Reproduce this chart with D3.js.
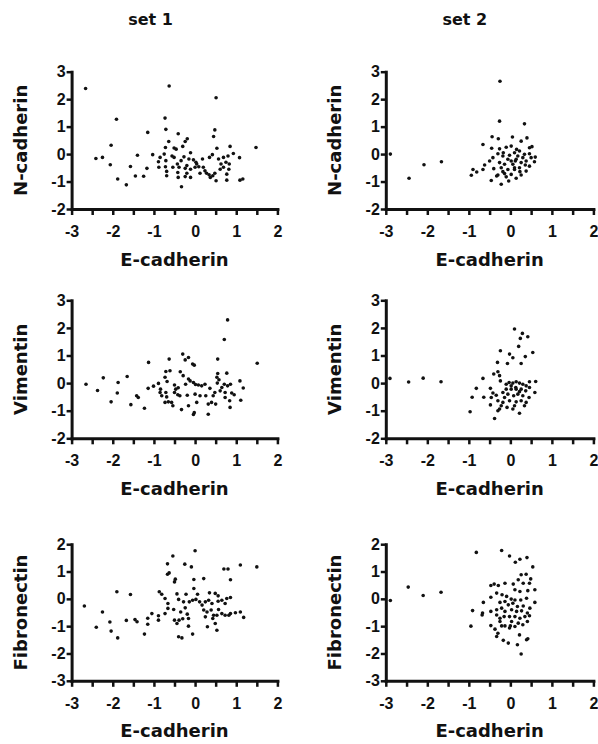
<!DOCTYPE html>
<html>
<head>
<meta charset="utf-8">
<script src="https://cdn.jsdelivr.net/npm/d3@7"></script>
<style>
  html, body { margin: 0; padding: 0; background: #fff; }
  svg { display: block; }
</style>
</head>
<body>
<svg id="chart" width="598" height="744"></svg>
<script>
// ---- data ------------------------------------------------------------
const setNames = ["set 1", "set 2"];
const markerNames = ["N-cadherin", "Vimentin", "Fibronectin"];
const xTitle = "E-cadherin";
const xDomain = [-3, 2];
const xTickValues = [-3, -2.5, -2, -1.5, -1, -0.5, 0, 0.5, 1, 1.5, 2];
const yDomains = [[-2, 3], [-2, 3], [-3, 2]];
const yTickValues = [[-2, -1, 0, 1, 2, 3], [-2, -1, 0, 1, 2, 3], [-3, -2, -1, 0, 1, 2]];

// [E-cadherin, marker] pairs
const set1NCad = [[-2.66,2.39],[-0.63,2.48],[0.51,2.05],[-1.91,1.27],[-0.73,1.31],[-0.71,0.90],[0.48,0.88],[-1.15,0.79],[0.45,0.64],[-0.41,0.74],[-2.04,0.32],[1.48,0.24],[-0.19,0.56],[-0.24,0.46],[-0.64,0.46],[-0.72,0.24],[-0.51,0.22],[-0.30,0.28],[-0.46,0.18],[0.85,0.28],[0.53,0.21],[-2.41,-0.16],[-2.25,-0.12],[-2.06,-0.39],[-1.40,-0.04],[-1.03,-0.02],[-0.75,0.00],[-0.85,-0.12],[-0.56,-0.07],[-0.51,-0.12],[-0.11,0.05],[-0.27,-0.10],[-0.34,-0.24],[-0.15,-0.18],[-0.04,-0.21],[0.02,-0.30],[0.18,-0.18],[0.35,-0.12],[0.42,-0.02],[0.57,-0.18],[0.69,-0.12],[0.80,-0.07],[0.93,0.02],[1.08,-0.13],[0.75,-0.30],[0.63,-0.36],[0.83,-0.36],[-0.89,-0.28],[-0.88,-0.48],[-0.72,-0.46],[-0.69,-0.63],[-0.69,-0.79],[-0.54,-0.48],[-0.43,-0.36],[-0.39,-0.48],[-0.42,-0.67],[-0.41,-0.85],[-0.24,-0.52],[-0.20,-0.42],[-0.11,-0.55],[0.00,-0.48],[0.09,-0.46],[0.12,-0.70],[0.24,-0.61],[0.28,-0.70],[0.34,-0.75],[0.43,-0.79],[0.48,-0.70],[0.51,-0.97],[0.37,-0.85],[0.69,-0.48],[0.82,-0.55],[0.77,-0.73],[0.77,-0.95],[1.09,-0.95],[1.16,-0.91],[-1.57,-0.45],[-1.17,-0.52],[-1.88,-0.91],[-1.67,-1.12],[-1.45,-0.80],[-1.25,-0.81],[-0.33,-1.19],[-0.24,-0.82],[-0.11,-0.85],[-0.71,-0.24],[0.04,-0.36],[0.61,-0.55],[-0.20,-0.70],[0.20,-0.48]];

const set2NCad = [[-2.89,0.00],[-2.44,-0.88],[-2.08,-0.39],[-1.66,-0.28],[-0.25,2.65],[-0.26,1.20],[0.34,1.10],[-0.44,0.63],[-0.29,0.56],[0.05,0.62],[0.40,0.59],[-0.66,0.35],[-0.45,0.21],[-0.10,0.25],[0.26,0.47],[0.52,0.27],[0.15,0.17],[-0.42,-0.13],[-0.30,0.01],[-0.18,-0.07],[-0.02,-0.04],[0.10,0.05],[0.22,0.11],[0.34,-0.01],[0.46,0.01],[0.60,-0.11],[-0.26,-0.31],[-0.14,-0.37],[0.02,-0.25],[0.14,-0.19],[0.26,-0.31],[0.38,-0.25],[0.58,-0.28],[-0.62,-0.40],[-0.90,-0.56],[-0.81,-0.65],[-0.66,-0.56],[-0.94,-0.77],[-0.40,-0.53],[-0.22,-0.50],[-0.06,-0.56],[0.10,-0.50],[0.22,-0.50],[0.38,-0.62],[-0.30,-0.76],[-0.14,-0.71],[0.02,-0.74],[0.14,-0.88],[0.26,-0.76],[-0.46,-0.96],[-0.22,-1.10],[-0.10,-0.83],[0.46,-0.44],[0.30,-0.13],[0.06,-0.37],[-0.06,-0.19],[-0.18,-0.64],[0.46,0.23],[0.18,-0.07],[0.36,-0.40],[0.02,0.29],[0.10,-0.56],[-0.26,0.19],[0.50,-0.13],[-0.50,-0.25],[-0.04,-0.98],[-0.33,-0.80],[0.23,-0.64],[-0.17,0.05],[0.12,-0.25]];

const set1Vim = [[0.79,2.29],[0.71,1.58],[1.51,0.72],[-0.30,1.05],[-0.16,0.93],[-0.24,0.84],[-0.63,0.87],[0.55,0.87],[-0.06,0.69],[-0.02,0.65],[-1.13,0.75],[-0.71,0.42],[-0.61,0.45],[-0.36,0.41],[0.55,0.35],[0.77,0.36],[1.09,0.08],[-2.65,-0.04],[-2.23,0.19],[-1.65,0.24],[-1.87,0.02],[-2.37,-0.27],[-1.89,-0.36],[-2.04,-0.68],[-1.56,-0.78],[-1.42,-0.46],[-1.38,-0.52],[-1.23,-0.91],[-1.14,-0.19],[-1.01,-0.11],[-0.73,0.21],[-0.68,0.06],[-0.89,-0.01],[-0.84,-0.22],[-0.85,-0.34],[-0.81,-0.46],[-0.71,-0.34],[-0.69,-0.50],[-0.65,-0.68],[-0.73,-0.70],[-0.54,-0.82],[-0.50,-0.07],[-0.47,-0.22],[-0.41,-0.17],[-0.42,-0.42],[-0.37,-0.46],[-0.33,-0.96],[-0.29,0.27],[-0.23,-0.04],[-0.19,-0.44],[-0.16,0.15],[-0.12,0.08],[-0.04,0.02],[0.01,-0.05],[0.08,-0.07],[0.00,-0.40],[0.04,-0.70],[-0.02,-1.07],[-0.04,-1.14],[0.12,-0.46],[0.16,-0.10],[0.24,-0.04],[0.26,-0.46],[0.32,-1.13],[0.32,-0.76],[0.36,-0.19],[0.40,-0.70],[0.44,-0.46],[0.48,-0.34],[0.50,-0.76],[0.54,0.00],[0.58,0.12],[0.61,-0.28],[0.65,-0.16],[0.71,-0.04],[0.73,-0.34],[0.79,-0.10],[0.86,-0.04],[0.89,-0.36],[0.84,-0.64],[0.85,-0.88],[0.95,-0.42],[1.11,-0.62],[1.17,-0.18],[0.73,-0.52],[0.53,0.21],[-0.57,-0.70],[-0.16,-0.82],[-0.50,-0.34]];

const set2Vim = [[-2.90,0.17],[-2.45,0.04],[-2.10,0.18],[-1.67,0.05],[0.10,1.96],[0.29,1.80],[0.24,1.62],[0.42,1.68],[0.20,1.33],[-0.24,1.17],[0.54,1.11],[-0.02,1.05],[0.06,0.92],[0.36,0.96],[-0.31,0.75],[-0.07,0.71],[0.26,0.71],[-0.40,0.33],[-0.30,0.41],[-0.26,0.27],[-0.66,0.17],[-0.82,-0.19],[-0.92,-0.51],[-0.64,-0.51],[-0.97,-1.04],[-0.38,-1.28],[-0.48,-0.19],[-0.42,-0.36],[-0.46,-0.52],[-0.34,-0.44],[-0.30,-0.64],[-0.48,-0.79],[-0.26,-0.94],[-0.18,-0.70],[-0.10,-0.04],[-0.03,0.02],[0.06,0.00],[0.14,0.05],[0.22,0.00],[0.30,-0.04],[0.38,-0.10],[0.46,-0.16],[0.61,0.06],[-0.10,-0.22],[0.02,-0.22],[0.13,-0.16],[0.26,-0.22],[0.37,-0.28],[0.59,-0.34],[-0.06,-0.40],[0.08,-0.46],[0.18,-0.40],[0.30,-0.46],[0.45,-0.52],[-0.14,-0.52],[-0.02,-0.64],[0.14,-0.68],[0.26,-0.64],[0.38,-0.70],[-0.22,-0.82],[-0.08,-0.88],[0.06,-0.94],[0.22,-1.09],[-0.30,-1.00],[0.14,-0.22],[0.02,-0.10],[0.22,-0.31],[-0.18,-0.34],[0.10,-0.82],[0.34,-0.82],[-0.24,0.08],[0.46,0.05]];

const set1Fn = [[0.00,1.76],[-0.54,1.57],[-0.67,1.28],[-0.25,1.27],[-0.09,1.17],[1.10,1.24],[1.50,1.17],[0.70,1.09],[0.80,1.09],[-0.67,0.90],[-0.63,0.95],[-0.48,0.72],[-0.50,0.62],[-0.03,0.71],[0.21,0.74],[0.86,0.70],[-0.03,0.38],[-1.90,0.26],[-1.57,0.16],[-0.87,0.26],[-0.81,0.17],[-0.44,0.18],[-0.22,0.17],[0.06,0.17],[0.35,0.22],[0.49,0.20],[0.56,0.11],[-0.73,0.01],[-0.66,-0.17],[-0.40,-0.02],[-0.28,-0.11],[-0.14,-0.11],[-0.06,-0.05],[0.02,-0.02],[0.11,-0.11],[0.25,-0.11],[0.33,-0.05],[0.41,-0.17],[0.56,-0.09],[0.65,-0.05],[0.77,0.01],[0.86,0.05],[0.73,-0.17],[-2.69,-0.26],[-2.25,-0.48],[-0.66,-0.35],[-0.52,-0.39],[-0.35,-0.48],[-0.24,-0.33],[-0.19,-0.56],[0.17,-0.23],[0.21,-0.41],[0.29,-0.48],[0.39,-0.41],[0.45,-0.60],[0.57,-0.39],[0.65,-0.54],[0.73,-0.60],[0.86,-0.54],[0.98,-0.51],[1.10,-0.48],[1.18,-0.68],[0.82,-0.60],[0.53,-0.60],[-1.05,-0.54],[-0.89,-0.62],[-1.15,-0.71],[-0.89,-0.78],[-0.73,-0.54],[-0.50,-0.78],[-0.39,-0.78],[-0.30,-0.73],[-0.16,-0.72],[-1.46,-0.76],[-1.41,-0.84],[-1.15,-0.93],[-1.67,-0.79],[-2.07,-0.85],[-2.40,-1.04],[-2.04,-1.18],[-1.88,-1.43],[-1.23,-1.29],[-0.40,-1.39],[-0.32,-1.43],[-0.06,-1.29],[0.30,-1.02],[0.43,-0.72],[0.49,-0.90],[0.53,-1.15],[-0.44,-0.90],[-0.16,-1.00],[0.25,-0.66]];

const set2Fn = [[-2.89,-0.06],[-2.46,0.43],[-2.10,0.12],[-1.67,0.24],[-0.82,1.70],[-0.21,1.77],[-0.02,1.57],[0.12,1.34],[0.23,1.45],[0.40,1.51],[0.54,1.17],[0.26,0.88],[0.38,0.90],[0.49,0.73],[0.19,0.70],[0.31,0.57],[0.46,0.57],[0.07,0.54],[-0.13,0.57],[-0.47,0.49],[-0.39,0.54],[-0.29,0.49],[0.11,0.33],[0.23,0.27],[0.59,0.33],[0.42,0.30],[-0.33,0.21],[-0.20,0.15],[-0.09,0.09],[-0.47,0.06],[0.02,-0.01],[0.11,-0.04],[0.25,-0.04],[0.39,0.02],[-0.65,-0.13],[-0.25,-0.13],[-0.13,-0.10],[-0.05,-0.22],[0.06,-0.16],[0.17,-0.28],[0.31,-0.26],[0.47,-0.34],[0.59,-0.13],[-0.91,-0.43],[-0.67,-0.52],[-0.68,-0.59],[-0.47,-0.46],[-0.33,-0.40],[-0.21,-0.34],[-0.13,-0.46],[0.03,-0.40],[0.15,-0.46],[0.27,-0.44],[0.41,-0.52],[-0.33,-0.59],[-0.25,-0.71],[-0.15,-0.65],[-0.02,-0.65],[0.11,-0.65],[0.23,-0.71],[0.35,-0.65],[0.46,-0.62],[-0.95,-1.00],[-0.47,-0.98],[-0.37,-1.11],[-0.30,-1.26],[-0.21,-0.99],[-0.13,-0.99],[-0.02,-1.07],[0.00,-0.99],[0.11,-1.01],[0.19,-0.89],[0.30,-0.95],[0.41,-0.83],[-0.33,-1.38],[-0.17,-1.52],[-0.05,-1.62],[0.22,-1.32],[0.42,-1.46],[0.17,-1.68],[0.26,-2.02],[0.39,-1.50],[0.03,-0.83],[-0.25,-0.83]];

// rows = marker, columns = set
const panelData = [
  [set1NCad, set2NCad],
  [set1Vim, set2Vim],
  [set1Fn, set2Fn]
];

// ---- layout ------------------------------------------------------------
const colX = [[71.6, 277.4], [385.8, 593.4]];   // left/right of x range
const rowY = [[209, 71.7], [438.3, 300.3], [680.8, 544.2]]; // bottom/top of y range

const tickFont = "bold 16px 'Liberation Sans', Arial, sans-serif";
const titleFontFamily = "'DejaVu Sans', sans-serif";
const ink = "#111";

const svg = d3.select("#chart");

// column headings
setNames.forEach((name, c) => {
  svg.append("text")
    .attr("x", colX[c][0] + 79)
    .attr("y", 25)
    .attr("text-anchor", "middle")
    .style("font", `bold 16px ${titleFontFamily}`)
    .attr("fill", ink)
    .text(name);
});

markerNames.forEach((marker, r) => {
  setNames.forEach((setName, c) => {
    const x = d3.scaleLinear().domain(xDomain).range(colX[c]);
    const y = d3.scaleLinear().domain(yDomains[r]).range(rowY[r]);
    const g = svg.append("g");

    // x axis
    const xAxis = d3.axisBottom(x)
      .tickValues(xTickValues)
      .tickSizeInner(6)
      .tickSizeOuter(0)
      .tickFormat(d => Number.isInteger(d) ? String(d) : "");
    const gx = g.append("g")
      .attr("transform", `translate(0,${rowY[r][0]})`)
      .call(xAxis);
    gx.selectAll("text").attr("dy", null).attr("y", 28);

    // y axis
    const yAxis = d3.axisLeft(y)
      .tickValues(yTickValues[r])
      .tickSizeInner(5)
      .tickSizeOuter(0)
      .tickPadding(1)
      .tickFormat(d => String(d));
    const gy = g.append("g")
      .attr("transform", `translate(${colX[c][0]},0)`)
      .call(yAxis);

    [gx, gy].forEach(ax => {
      ax.select(".domain").attr("stroke", ink).attr("stroke-width", 3)
        .attr("stroke-linecap", "square");
      ax.selectAll(".tick line").attr("stroke", ink).attr("stroke-width", 2.5);
      ax.selectAll(".tick text").style("font", tickFont).attr("fill", ink);
    });

    // axis titles
    g.append("text")
      .attr("x", (colX[c][0] + colX[c][1]) / 2)
      .attr("y", rowY[r][0] + 56.5)
      .attr("text-anchor", "middle")
      .style("font", `bold 18px ${titleFontFamily}`)
      .attr("fill", ink)
      .text(xTitle);

    g.append("text")
      .attr("transform", `translate(${colX[c][0] - 45},${(rowY[r][0] + rowY[r][1]) / 2}) rotate(-90)`)
      .attr("text-anchor", "middle")
      .style("font", `bold 18px ${titleFontFamily}`)
      .attr("fill", ink)
      .text(marker);

    // points
    g.append("g")
      .selectAll("circle")
      .data(panelData[r][c])
      .join("circle")
      .attr("cx", d => x(d[0]))
      .attr("cy", d => y(d[1]))
      .attr("r", 1.8)
      .attr("fill", ink);
  });
});
</script>
</body>
</html>
